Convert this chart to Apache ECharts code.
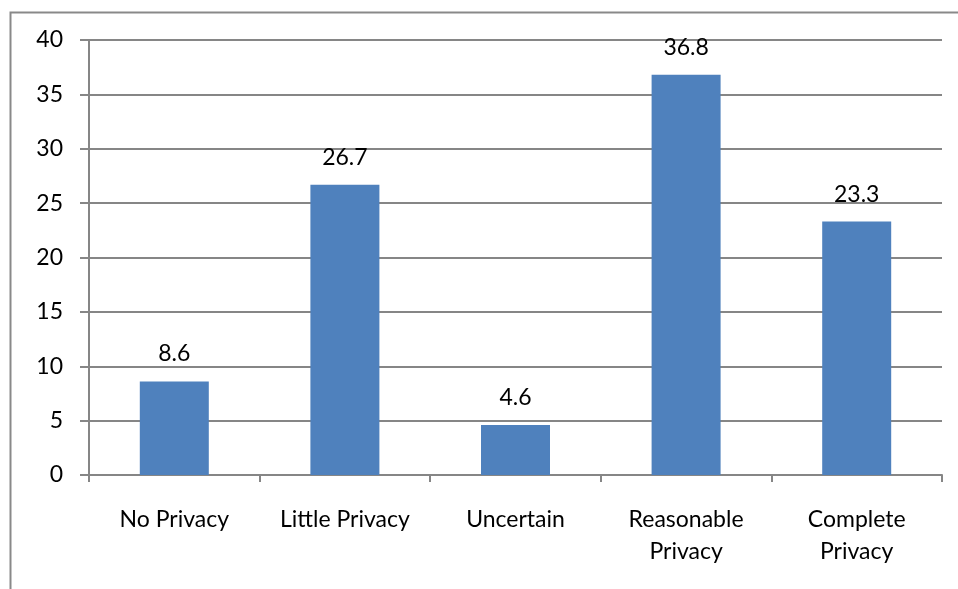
<!DOCTYPE html>
<html><head><meta charset="utf-8">
<script src="https://cdn.jsdelivr.net/npm/echarts@6/dist/echarts.min.js"></script>
<style>html,body{margin:0;padding:0;background:#fff}#c{width:958px;height:589px}</style>
</head><body><div id="c"></div>
<script>
const categories = ['No Privacy', 'Little Privacy', 'Uncertain', 'Reasonable\nPrivacy', 'Complete\nPrivacy'];
const values = [8.6, 26.7, 4.6, 36.8, 23.3];
const yTicks = { min: 0, max: 40, interval: 5 };

const FONT = 'Lato, "Open Sans", sans-serif';
const chart = echarts.init(document.getElementById('c'), null, { renderer: 'canvas' });
chart.setOption({
  animation: false,
  backgroundColor: '#fff',
  graphic: [{
    type: 'rect', left: 8, top: 10, z: -1,
    shape: { width: 1100, height: 700 },
    style: { fill: 'none', stroke: '#898989', lineWidth: 2 }
  }],
  grid: { left: 89, right: 16, top: 40, bottom: 114, containLabel: false },
  xAxis: {
    type: 'category', data: categories,
    axisLine: { lineStyle: { color: '#868686', width: 2 } },
    axisTick: { show: true, length: 7, lineStyle: { color: '#868686', width: 2 } },
    axisLabel: { color: '#000', fontSize: 23, fontFamily: FONT, margin: 29, lineHeight: 32, interval: 0 }
  },
  yAxis: {
    type: 'value', min: yTicks.min, max: yTicks.max, interval: yTicks.interval,
    axisLine: { show: true, lineStyle: { color: '#868686', width: 2 } },
    axisTick: { show: true, length: 9, lineStyle: { color: '#868686', width: 2 } },
    splitLine: { lineStyle: { color: '#868686', width: 2 } },
    axisLabel: { color: '#000', fontSize: 23, fontFamily: FONT, margin: 26 }
  },
  series: [{
    type: 'bar', data: values, barWidth: 69,
    itemStyle: { color: '#4F81BD' },
    label: { show: true, position: 'top', distance: 16, color: '#000', fontSize: 23, fontFamily: FONT }
  }]
});
</script></body></html>
